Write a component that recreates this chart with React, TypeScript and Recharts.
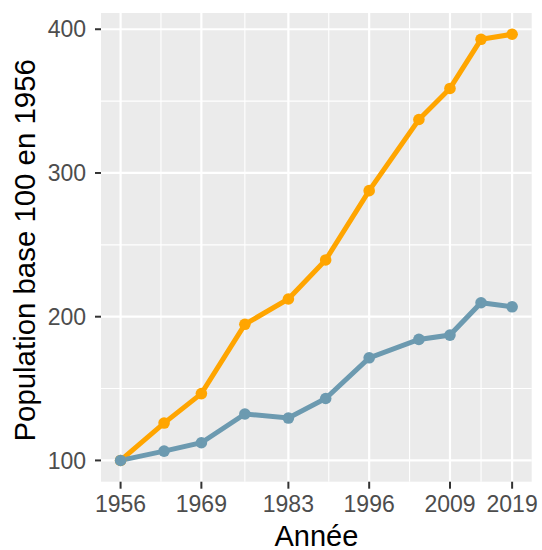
import React from "react";
import { CartesianGrid, Line, LineChart, XAxis, YAxis } from "recharts";

const ORANGE = "#FFA500";
const BLEU = "#6C9AB0";

const years = [1956, 1963, 1969, 1976, 1983, 1989, 1996, 2004, 2009, 2014, 2019];
const serieOrange = [100, 126, 146.5, 194.7, 212.3, 239.5, 287.7, 337.2, 358.8, 393, 396.5];
const serieBleue = [100, 106.5, 112.3, 132.3, 129.5, 143.1, 171.4, 184.2, 187.2, 209.7, 206.9];

const xTicks = [1956, 1969, 1983, 1996, 2009, 2019];
const xMinor = [1962.5, 1976, 1989.5, 2002.5, 2014];
const yTicks = [100, 200, 300, 400];
const yMinor = [150, 250, 350];

const data = years.map((annee, i) => ({
  annee,
  orange: serieOrange[i],
  bleue: serieBleue[i],
}));

const FONT = "'Liberation Sans', Arial, Helvetica, sans-serif";

const XTick = (props: any) => {
  const { x, y, payload } = props;
  return (
    <text x={x} y={y + 21.6} textAnchor="middle" fill="#4D4D4D" fontSize={23} fontFamily={FONT}>
      {payload.value}
    </text>
  );
};

const YTick = (props: any) => {
  const { x, y, payload } = props;
  return (
    <text x={x - 7} y={y + 8.2} textAnchor="end" fill="#4D4D4D" fontSize={23} fontFamily={FONT}>
      {payload.value}
    </text>
  );
};

const XTitle = (props: any) => {
  const vb = props.viewBox;
  return (
    <text x={vb.x + vb.width / 2} y={545.6} textAnchor="middle" fill="#000" fontSize={29} fontFamily={FONT}>
      Année
    </text>
  );
};

const YTitle = (props: any) => {
  const vb = props.viewBox;
  const cy = vb.y + vb.height / 2 + 3;
  return (
    <text
      x={35}
      y={cy}
      transform={`rotate(-90, 35, ${cy})`}
      textAnchor="middle"
      fill="#000"
      fontSize={29.4}
      fontFamily={FONT}
    >
      Population base 100 en 1956
    </text>
  );
};

export default function App() {
  return (
    <div style={{ position: "absolute", left: 0, top: 0, background: "#fff" }}>
      <LineChart width={542} height={550} data={data} margin={{ top: 13, right: 10.3, left: 0, bottom: 0 }}>
        <CartesianGrid
          fill="#EBEBEB"
          fillOpacity={1}
          stroke="#FFFFFF"
          strokeWidth={1.1}
          verticalValues={xMinor}
          horizontalValues={yMinor}
        />
        <CartesianGrid
          stroke="#FFFFFF"
          strokeWidth={2.2}
          verticalValues={xTicks}
          horizontalValues={yTicks}
        />
        <XAxis
          dataKey="annee"
          type="number"
          domain={[1952.85, 2022.15]}
          ticks={xTicks}
          allowDataOverflow
          axisLine={false}
          tickLine={{ stroke: "#333333", strokeWidth: 2 }}
          tickSize={7}
          height={68.3}
          tick={<XTick />}
          interval={0}
          label={<XTitle />}
        />
        <YAxis
          type="number"
          domain={[85.2, 411.3]}
          ticks={yTicks}
          allowDataOverflow
          axisLine={false}
          tickLine={{ stroke: "#333333", strokeWidth: 2 }}
          tickSize={6}
          width={101}
          tick={<YTick />}
          interval={0}
          label={<YTitle />}
        />
        <Line
          dataKey="orange"
          stroke={ORANGE}
          strokeWidth={5}
          dot={{ r: 5.8, fill: ORANGE, stroke: "none" }}
          isAnimationActive={false}
        />
        <Line
          dataKey="bleue"
          stroke={BLEU}
          strokeWidth={5}
          dot={{ r: 5.8, fill: BLEU, stroke: "none" }}
          isAnimationActive={false}
        />
      </LineChart>
    </div>
  );
}
